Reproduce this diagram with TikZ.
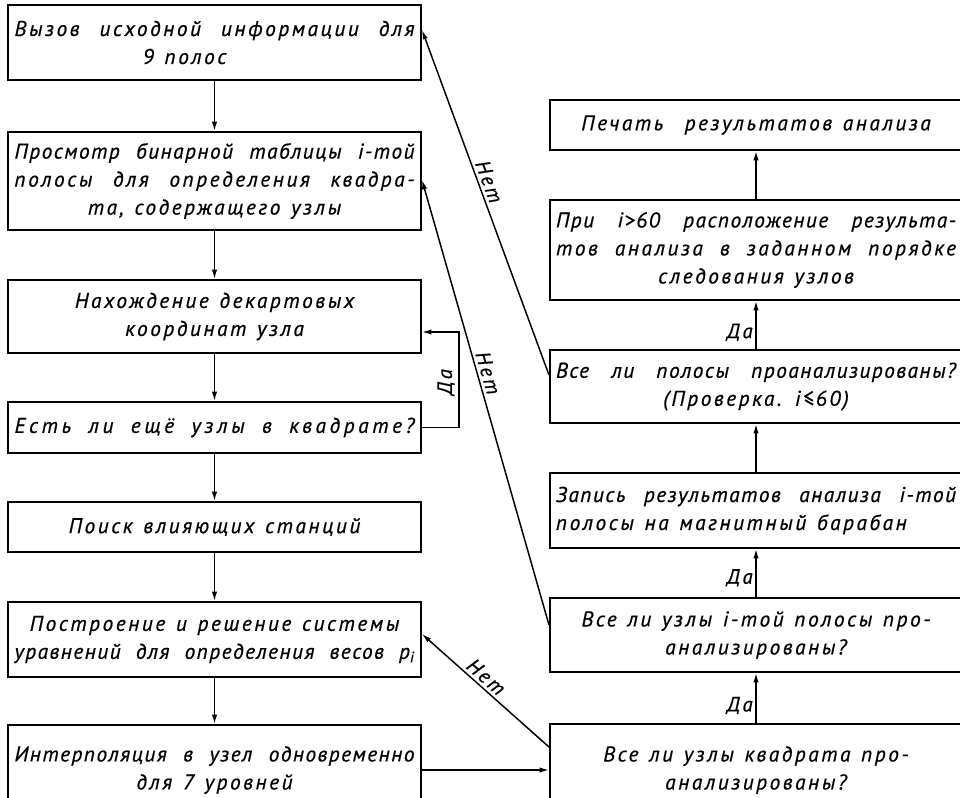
\documentclass[tikz,border=0pt]{standalone}
\usepackage{fontspec}
\newfontfamily\gostfont{PT Sans}[LetterSpace=12,WordSpace=1.3,FakeBold=0.6]
\usetikzlibrary{arrows.meta}

% a line spread over the whole box, and squeezed or widened letters
\newcommand{\shirokaja}[1]{\makebox[300pt][s]{#1}}
\newcommand{\uzko}{\addfontfeatures{LetterSpace=7}}
\newcommand{\vrazryadku}{\addfontfeatures{LetterSpace=17}}

\tikzset{
  blok/.style={draw, line width=1.5pt, minimum width=309.75pt, inner sep=3pt, align=center,
    font=\gostfont\itshape\fontsize{16}{21}\selectfont},
  strelka/.style={line width=1.1pt, -{Latex[length=7pt,width=4pt]}},
  metka/.style={font=\gostfont\itshape\fontsize{15.5}{16}\selectfont, inner sep=2pt}
}

\begin{document}
\begin{tikzpicture}[x=0.75pt,y=0.75pt,yscale=-1,xscale=1]
\useasboundingbox (0,0) rectangle (960,797);
\clip (0,0) rectangle (960,797);

% left column
\node[blok, minimum height=56.25pt] (vyzov) at (214.5,42.5) {\shirokaja{Вызов исходной информации для}\\\hspace*{-45pt}9 полос};
\node[blok, minimum height=73.5pt] (prosmotr) at (214.5,181) {\shirokaja{\uzko Просмотр бинарной таблицы i-той}\\\shirokaja{полосы для определения квадра-}\\та, содержащего узлы};
\node[blok, minimum height=54.75pt] (nahozh) at (214.5,316.5) {Нахождение декартовых\\координат узла};
\node[blok, minimum height=38.25pt] (esli) at (214.5,427.5) {\shirokaja{\vrazryadku Есть ли ещё узлы в квадрате?}};
\node[blok, minimum height=37.5pt] (poisk) at (214.5,527) {Поиск влияющих станций};
\node[blok, minimum height=56.25pt] (postr) at (214.5,639.5) {Построение и решение системы\\\shirokaja{\uzko уравнений для определения весов p\textsubscript{i}}};
\node[blok, minimum height=67.5pt] (interp) at (214.5,770) {\shirokaja{\uzko Интерполяция в узел одновременно}\\для 7 уровней};

% right column
\node[blok, minimum width=309pt, minimum height=37.5pt] (pechat) at (756,125) {Печать\ \ результатов анализа};
\node[blok, minimum width=309pt, minimum height=75pt] (pri) at (756,250) {\shirokaja{\uzko При i>60 расположение результа-}\\\shirokaja{тов анализа в заданном порядке}\\следования узлов};
\node[blok, minimum width=309pt, minimum height=54.75pt] (polosy) at (756,386.5) {\shirokaja{\uzko Все ли полосы проанализированы?}\\(Проверка. i≤60)};
\node[blok, minimum width=309pt, minimum height=56.25pt] (zapis) at (756,510.5) {\shirokaja{\uzko Запись результатов анализа i-той}\\\makebox[300pt][l]{полосы на магнитный барабан}};
\node[blok, minimum width=309pt, minimum height=55.5pt] (uzly) at (756,635) {Все ли узлы i-той полосы про-\\анализированы?};
\node[blok, minimum width=309pt, minimum height=69pt] (kvadrat) at (756,770) {Все ли узлы квадрата про-\\анализированы?};

% down the left
\draw[strelka] (vyzov) -- (prosmotr);
\draw[strelka] (prosmotr) -- (nahozh);
\draw[strelka] (nahozh) -- (esli);
\draw[strelka] (esli) -- (poisk);
\draw[strelka] (poisk) -- (postr);
\draw[strelka] (postr) -- (interp);

% loop back for the next node
\coordinate (povorot) at (459,332);
\draw[strelka] (esli.east) -| (povorot) -- (nahozh.east |- povorot);
\node[metka, rotate=90] (da0) at (446,382) {Да};

% across and up the right
\draw[strelka] (interp.east) -- (kvadrat.west);
\draw[strelka] (kvadrat) -- (uzly) node[metka, pos=0.35, left] {Да};
\draw[strelka] (uzly) -- (zapis) node[metka, pos=0.4, left] {Да};
\draw[strelka] (zapis) -- (polosy);
\draw[strelka] (polosy) -- (pri) node[metka, pos=0.35, left] {Да};
\draw[strelka] (pri) -- (pechat);

% the "no" returns
\draw[strelka] (polosy.west |- 0,375) -- (vyzov.east |- 0,30) node[metka, pos=0.55, rotate=-69.5, anchor=south] {Нет};
\draw[strelka] (uzly.west |- 0,625) -- (prosmotr.east |- 0,180) node[metka, pos=0.56, rotate=-73.8, anchor=south] {Нет};
\draw[strelka] (kvadrat.west |- 0,747) -- (postr.east |- 0,634) node[metka, pos=0.55, rotate=-41.2, anchor=south] {Нет};

\end{tikzpicture}
\end{document}
